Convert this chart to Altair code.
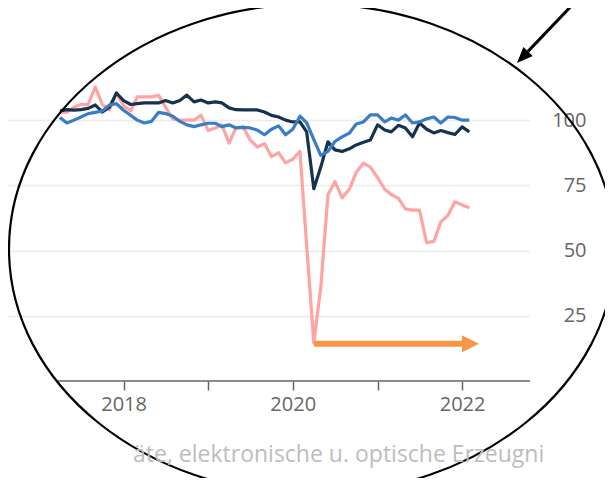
import altair as alt
import pandas as pd

# ---- data (monthly, 2017-04 .. 2022-02) ----
months = pd.date_range("2017-04-01", "2022-02-01", freq="MS").strftime("%Y-%m-%d").tolist()

navy = [103.5, 104, 103.8, 104, 104.5, 105.8, 103.1, 105, 110.4, 107.5, 106, 106.3,
        106.6, 106.6, 106.6, 107.5, 106.6, 107.5, 109.6, 107, 107.7, 106.6, 107, 106.6,
        104.7, 104, 103.9, 103.9, 103.9, 103.1, 101.8, 101.2, 100, 99.3, 99.3, 95.5,
        73.7, 82, 91.7, 88.6, 88, 89, 90.5, 91.5, 92.4, 98.2, 96.2, 95.5,
        98, 97, 93.6, 98.9, 96.5, 95.1, 96, 95.2, 94.5, 97.4, 95.5]

blue = [101, 98.9, 100, 101.2, 102.5, 103, 103.5, 105.8, 106.3, 103.8, 101.8, 100,
        98.9, 99.5, 103, 102.5, 101.5, 99.5, 98.2, 97.5, 98.2, 98.8, 98.8, 97.5,
        98.2, 97, 97.2, 97, 96.2, 94.4, 96.5, 97.8, 94.4, 96.5, 101.5, 99,
        92.5, 86.5, 88, 91.8, 93.6, 95, 98.5, 99.3, 102, 102, 99.3, 100.8,
        100, 102, 98.9, 99.3, 100.5, 101.2, 98.9, 101.2, 101, 100, 100]

pink = [103, 103, 105, 106, 106, 112.7, 106, 104, 110.4, 105.5, 103.5, 108.9,
        108.9, 108.9, 109.5, 105, 100.5, 100, 100, 100, 101.9, 96, 97, 98.2,
        91.2, 97, 97.4, 92.4, 89.7, 91, 86, 87.5, 83.6, 85, 88, 52,
        14.5, 36, 71.4, 76.4, 70.2, 73.5, 80, 83.5, 82, 78, 73.5, 71.5,
        70, 66, 65.5, 65.5, 53, 53.5, 61, 63.5, 68.7, 67.5, 66.4]

series_names = ["Datenverarbeitungsgeräte", "Gesamt", "Vorleistungsgüter"]
series_values = [pink, navy, blue]
series_colors = ["#ffa3a3", "#17324f", "#3a7dc4"]   # drawn in this order

y_ticks = [25, 50, 75, 100]
x_tick_years = [2018, 2019, 2020, 2021, 2022]
caption = "äte, elektronische u. optische Erzeugni"

# orange arrow (from the minimum towards the present)
arrow_start = "2020-04-01"
arrow_end = "2022-01-01"
arrow_head = "2022-02-06"
arrow_level = 14.3

FONT = "Open Sans"
GREY = "#666666"


def x_enc(field):
    return alt.X(
        f"{field}:T",
        scale=alt.Scale(
            type="utc",
            domain=[alt.DateTime(year=2016, month=8, date=20, utc=True),
                    alt.DateTime(year=2022, month=10, date=21, utc=True)],
        ),
        axis=alt.Axis(
            values=[alt.DateTime(year=y, month=1, date=1, utc=True) for y in x_tick_years],
            labelExpr="utcyear(datum.value) % 2 == 0 ? utcFormat(datum.value, '%Y') : ''",
            title=None, domain=False, grid=False,
            tickColor=GREY, tickSize=9, tickWidth=1.5,
            labelFont=FONT, labelFontSize=20, labelColor=GREY, labelPadding=4,
        ),
    )


def y_enc(field):
    return alt.Y(
        f"{field}:Q",
        scale=alt.Scale(domain=[0, 115], nice=False, zero=True),
        axis=alt.Axis(
            orient="right", values=y_ticks, title=None, domain=False,
            ticks=False, tickSize=0, grid=True, gridColor="#ebebeb", gridWidth=1.5,
            labelFont=FONT, labelFontSize=20, labelColor=GREY,
            labelAlign="right", labelPadding=56,
        ),
    )


line_layers = []
for name, vals, col in zip(series_names, series_values, series_colors):
    sdf = pd.DataFrame({"date": months, "value": vals, "series": name})
    line_layers.append(
        alt.Chart(sdf).mark_line(strokeWidth=3.2, strokeJoin="round", color=col).encode(
            x=x_enc("date"), y=y_enc("value"))
    )

baseline_df = pd.DataFrame({"date": ["2017-03-22"], "date2": ["2022-10-21"], "value": [0]})
baseline = alt.Chart(baseline_df).mark_rule(color=GREY, strokeWidth=1.5).encode(
    x=x_enc("date"), x2="date2:T", y=y_enc("value"))

orange_df = pd.DataFrame({"date": [arrow_start], "date2": [arrow_end], "value": [arrow_level]})
orange_line = alt.Chart(orange_df).mark_rule(color="#f79646", strokeWidth=6).encode(
    x=x_enc("date"), x2="date2:T", y=y_enc("value"))
orange_head_df = pd.DataFrame({"date": [arrow_head], "value": [arrow_level]})
orange_head = alt.Chart(orange_head_df).mark_point(
    shape="M1,0L-1,-1L-1,1Z", filled=True, color="#f79646", opacity=1, size=289, strokeWidth=0
).encode(x=x_enc("date"), y=y_enc("value"))

one = alt.Data(values=[{"k": 1}])

ellipse_path = ("M1,0C1,0.4466,0.5523,0.8086,0,0.8086C-0.5523,0.8086,-1,0.4466,-1,0"
                "C-1,-0.4466,-0.5523,-0.8086,0,-0.8086C0.5523,-0.8086,1,-0.4466,1,0Z")
ellipse = alt.Chart(one).mark_point(
    shape=ellipse_path, filled=False, stroke="black", strokeWidth=2.2, opacity=1, size=367236
).encode(x=alt.value(304), y=alt.value(168))

black_line = alt.Chart(one).mark_rule(color="black", strokeWidth=3).encode(
    x=alt.value(569), y=alt.value(-81), x2=alt.value(520), y2=alt.value(-29.6))
black_head = alt.Chart(one).mark_point(
    shape="M0,-1L0.8,1L-0.8,1Z", filled=True, color="black", opacity=1, size=256, angle=224, strokeWidth=0
).encode(x=alt.value(514.5), y=alt.value(-23.8))

caption_text = alt.Chart(one).mark_text(
    align="left", baseline="alphabetic", font=FONT, fontSize=23, color="#bdbdbd"
).encode(x=alt.value(125), y=alt.value(381), text=alt.value(caption))

chart = alt.layer(
    baseline, *line_layers, orange_line, orange_head, ellipse, black_line, black_head, caption_text
).properties(
    width=522, height=300,
    autosize=alt.AutoSizeParams(type="none"),
    padding={"left": 0, "top": 73, "right": 75, "bottom": 97},
    background="white",
).configure_view(stroke=None)

chart.save("out.html", embed_options={"renderer": "svg", "actions": False})
